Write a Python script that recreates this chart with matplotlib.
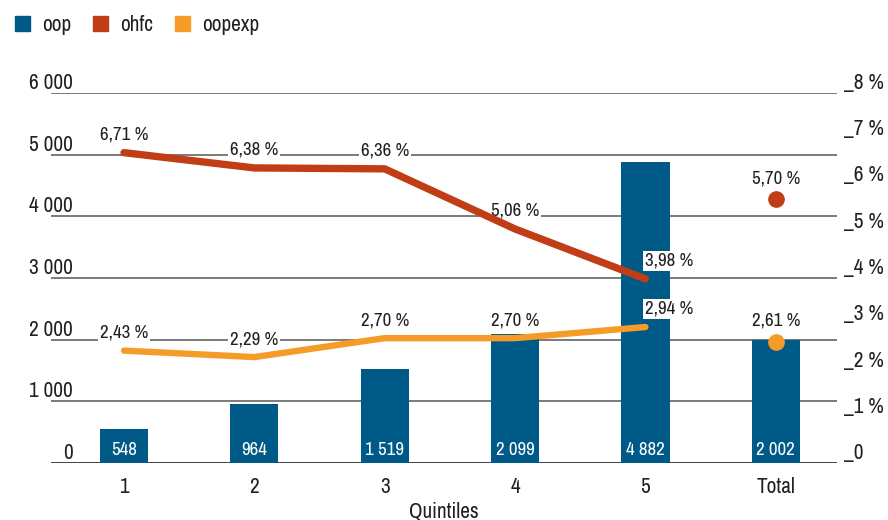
import matplotlib
matplotlib.use('Agg')
import matplotlib.pyplot as plt
from matplotlib import font_manager
from matplotlib.patches import Patch

# the reference uses a condensed face; take one if the system has it
narrow = None
for f in font_manager.fontManager.ttflist:
    if ('Narrow' in f.name or 'Condensed' in f.name) and f.style == 'normal':
        narrow = f.name
        break
if narrow is None:
    for f in font_manager.fontManager.ttflist:
        if f.stretch in ('condensed', 'semi-condensed', 'extra-condensed') and f.style == 'normal':
            narrow = f.name
            plt.rcParams['font.stretch'] = f.stretch
            break
families = ([narrow] if narrow else []) + ['Liberation Sans', 'DejaVu Sans']
plt.rcParams['font.family'] = families
scale = 1.0 if narrow else 0.85

categories = ['1', '2', '3', '4', '5', 'Total']
oop = [548, 964, 1519, 2099, 4882, 2002]
ohfc = [6.71, 6.38, 6.36, 5.06, 3.98]
oopexp = [2.43, 2.29, 2.70, 2.70, 2.94]
ohfc_total = 5.70
oopexp_total = 2.61

left_ticks = [0, 1000, 2000, 3000, 4000, 5000, 6000]
left_labels = ['0', '1 000', '2 000', '3 000', '4 000', '5 000', '6 000']
right_ticks = [0, 1, 2, 3, 4, 5, 6, 7, 8]
right_labels = ['_0'] + ['_%d %%' % t for t in right_ticks[1:]]

c_oop = '#005a87'
c_ohfc = '#c03d16'
c_oopexp = '#f59c28'
c_text = '#231f20'

fs_tick = 15.3 * scale
fs_lab = 13.6 * scale


def fmt_pct(v):
    return ('%.2f %%' % v).replace('.', ',')


def fmt_int(v):
    return '{:,}'.format(v).replace(',', ' ')


fig = plt.figure(figsize=(8.88, 5.2), dpi=100)
ax = fig.add_axes([51 / 888, 57 / 520, 786 / 888, 370 / 520])
ax2 = ax.twinx()

x = list(range(len(categories)))

# gridlines
for t in left_ticks:
    ax.axhline(t, color='#333333' if t == 0 else '#707070', lw=1.3, zorder=1)

bars = ax.bar(x, oop, width=0.37, color=c_oop, zorder=2)
for xi, v in zip(x, oop):
    ax.text(xi, 75, fmt_int(v), ha='center', va='bottom', color='white',
            fontsize=fs_lab, zorder=3)

ax.set_xlim(-0.56, 5.47)
ax.set_ylim(0, 6000)
ax2.set_ylim(0, 8)

for s in ax.spines.values():
    s.set_visible(False)
for s in ax2.spines.values():
    s.set_visible(False)

ax.set_yticks(left_ticks)
ax.set_yticklabels(left_labels)
ax.tick_params(axis='y', length=0, pad=-16, labelsize=fs_tick, labelcolor=c_text)
for lab in ax.get_yticklabels():
    lab.set_va('bottom')

ax2.set_yticks(right_ticks)
ax2.set_yticklabels(right_labels)
ax2.tick_params(axis='y', length=0, pad=5, labelsize=fs_tick, labelcolor=c_text)
for lab in ax2.get_yticklabels():
    lab.set_va('bottom')

ax.set_xticks(x)
ax.set_xticklabels(categories)
ax.tick_params(axis='x', length=0, pad=10, labelsize=fs_tick, labelcolor=c_text)
ax.set_xlabel('Quintiles', fontsize=fs_tick, color=c_text, labelpad=3)

# lines on right axis
xq = x[:5]
ax2.plot(xq, ohfc, color=c_ohfc, lw=5.3, solid_capstyle='round',
         solid_joinstyle='round', zorder=5)
ax2.plot(xq, oopexp, color=c_oopexp, lw=4.6, solid_capstyle='round',
         solid_joinstyle='round', zorder=5)
ax2.plot([5], [ohfc_total], 'o', color=c_ohfc, ms=11, zorder=5)
ax2.plot([5], [oopexp_total], 'o', color=c_oopexp, ms=11, zorder=5)

box = dict(boxstyle='square,pad=0.1', fc='white', ec='none')
for series in (ohfc, oopexp):
    for i, v in enumerate(series):
        ha = 'left' if i == 4 else 'center'
        ax2.annotate(fmt_pct(v), (xq[i], v), xytext=(0, 13), textcoords='offset points',
                     ha=ha, va='center', fontsize=fs_lab, color=c_text, bbox=box, zorder=4)
ax2.annotate(fmt_pct(ohfc_total), (5, ohfc_total), xytext=(0, 15), textcoords='offset points',
             ha='center', va='center', fontsize=fs_lab, color=c_text, zorder=4)
ax2.annotate(fmt_pct(oopexp_total), (5, oopexp_total), xytext=(0, 16), textcoords='offset points',
             ha='center', va='center', fontsize=fs_lab, color=c_text, zorder=4)

handles = [Patch(color=c_oop, label='oop'),
           Patch(color=c_ohfc, label='ohfc'),
           Patch(color=c_oopexp, label='oopexp')]
fig.legend(handles=handles, loc='upper left', bbox_to_anchor=(0.0, 1.0), ncol=3,
           frameon=False, fontsize=fs_tick, handlelength=0.7, handleheight=0.7,
           handletextpad=0.6, columnspacing=1.0, borderaxespad=0.3,
           labelcolor=c_text)

fig.savefig('out.png', dpi=100)
